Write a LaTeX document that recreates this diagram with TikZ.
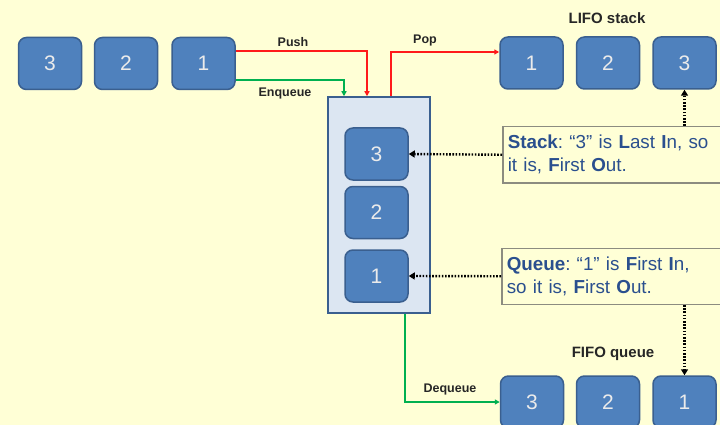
\documentclass[tikz,border=0pt]{standalone}
\usepackage{fontspec}
\setmainfont{Liberation Sans}
\usetikzlibrary{arrows.meta}
\definecolor{bg}{HTML}{FFFFD6}
\definecolor{boxfill}{HTML}{4F81BD}
\definecolor{boxline}{HTML}{3A5F8F}
\definecolor{contfill}{HTML}{DCE6F2}
\definecolor{txtblue}{HTML}{2A4F8E}
\definecolor{myred}{HTML}{FF1A1A}
\definecolor{mygreen}{HTML}{00B050}
\definecolor{calline}{HTML}{8C8C80}
\frenchspacing
\begin{document}
\begin{tikzpicture}[x=1pt,y=-1pt,
  numbox/.style={draw=boxline, line width=1.5pt, fill=boxfill, rounded corners=8pt,
    minimum width=63pt, minimum height=52pt, inner sep=0pt,
    text=white!92!black, font=\fontsize{21}{24}\selectfont},
  container/.style={draw=boxline, line width=1.5pt, fill=contfill, minimum width=102pt,
    minimum height=216pt, inner sep=0pt},
  callout/.style={draw=calline, line width=1.5pt, fill=bg, anchor=north west,
    minimum height=56pt, text width=222pt, inner sep=5pt, align=left,
    text=txtblue, font=\fontsize{18.8}{23}\selectfont},
  lbl/.style={text=black!85, font=\bfseries\fontsize{12.5}{14}\selectfont, inner sep=0pt},
  title/.style={text=black!85, font=\bfseries\fontsize{15}{17}\selectfont, inner sep=0pt},
  redline/.style={draw=myred, line width=1.5pt, -{Triangle[length=5pt,width=5pt]}},
  greenline/.style={draw=mygreen, line width=1.5pt, -{Triangle[length=5pt,width=5pt]}},
  dotline/.style={draw=black, line width=2.4pt, dash pattern=on 1.6pt off 1.6pt,
    -{Triangle[length=6pt,width=7pt]}}
]
\clip (0,0) rectangle (720,425);
\fill[bg] (0,0) rectangle (720,425);

% input row
\node[numbox] (in3) at (50,63.5) {3};
\node[numbox] (in2) at (126,63.5) {2};
\node[numbox] (in1) at (203.5,63.5) {1};

% container
\node[container] (cont) at (379,205) {};
\node[numbox] (c3) at (376.5,154) {3};
\node[numbox] (c2) at (376.5,212.5) {2};
\node[numbox] (c1) at (376.5,276) {1};

% LIFO stack
\node[title] (lifo) at (607,18) {LIFO stack};
\node[numbox] (l1) at (531.5,63) {1};
\node[numbox] (l2) at (608,63) {2};
\node[numbox] (l3) at (684.5,63) {3};

% FIFO queue
\node[title] (fifo) at (613,354) {FIFO queue};
\node[numbox] (f3) at (532,402) {3};
\node[numbox] (f2) at (608,402) {2};
\node[numbox] (f1) at (684.5,402) {1};

% callouts
\node[callout] (stk) at (502,126) {\textbf{Stack}: “3” is \textbf{L}ast \textbf{I}n, so\\ it is, \textbf{F}irst \textbf{O}ut.};
\node[callout] (que) at (501,247.5) {\textbf{Queue}: “1” is \textbf{F}irst \textbf{I}n,\\ so it is, \textbf{F}irst \textbf{O}ut.};

% connectors
\draw[redline] ([yshift=12.5pt]in1.east) -| ([xshift=-12pt]cont.north);
\draw[greenline] ([yshift=-16.5pt]in1.east) -| ([xshift=-35pt]cont.north);
\draw[redline] ([xshift=12pt]cont.north) |- ([yshift=11pt]l1.west);
\draw[greenline] ([xshift=26pt]cont.south) |- (f3.west);

\draw[dotline] (stk.west) -- (c3.east);
\draw[dotline] (que.west) -- (c1.east);
\draw[dotline] (l3.south |- stk.north) -- (l3.south);
\draw[dotline] (f1.north |- que.south) -- (f1.north);

% labels
\node[lbl] (push) at (293,42) {Push};
\node[lbl] (pop) at (425,40) {Pop};
\node[lbl] (enq) at (285,93) {Enqueue};
\node[lbl] (deq) at (450,389) {Dequeue};
\end{tikzpicture}
\end{document}
